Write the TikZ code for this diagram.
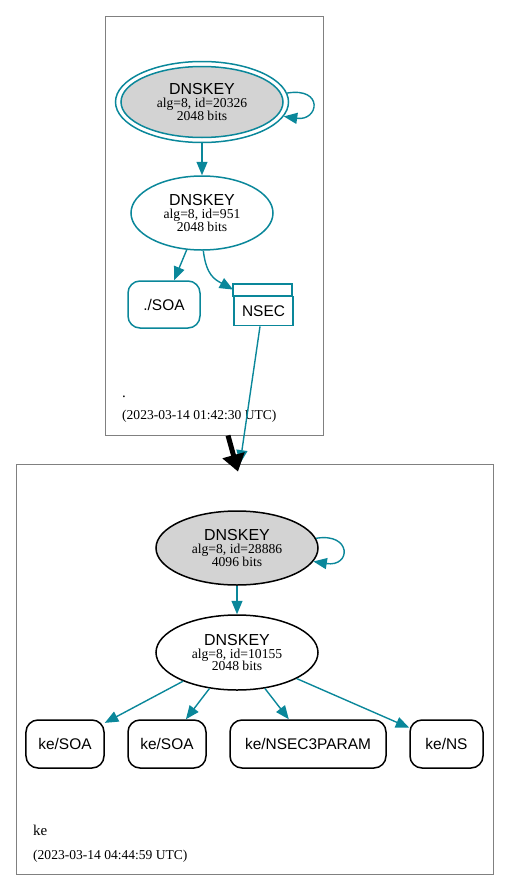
\documentclass[tikz,border=0pt]{standalone}
\usepackage{fontspec}
\setmainfont{Liberation Serif}
\setsansfont{Liberation Sans}
\usetikzlibrary{arrows.meta,shapes.geometric}
\definecolor{dnsteal}{HTML}{0A879A}
\definecolor{keygray}{HTML}{D3D3D3}
\definecolor{zonegray}{HTML}{808080}
\newcommand{\keylabel}[2]{{\sffamily\fontsize{16}{13}\selectfont DNSKEY}\\alg=8, id=#1\\#2 bits}

\begin{document}
\begin{tikzpicture}[x=1bp,y=-1bp,
  zone/.style={draw=zonegray,line width=0.8bp},
  keynode/.style={ellipse,inner sep=0pt,align=center,line width=1.5bp,
    font=\fontsize{13.7}{13}\selectfont},
  rrbox/.style={rectangle,rounded corners=12bp,line width=1.5bp,
    font=\sffamily\fontsize{15.5}{16}\selectfont},
  edge/.style={draw=dnsteal,line width=1.4bp,-{Triangle[length=13.5bp,width=11bp]}},
  zonearrow/.style={draw=black,line width=5bp,-{Triangle[length=17bp,width=22bp]}},
  zonelabel/.style={anchor=base west,inner sep=0pt}]
  \useasboundingbox (0,0) rectangle (509,890);
  \node[zone,minimum width=218bp,minimum height=419bp] (rootzone) at (214,225.5) {};
  \node[zone,minimum width=477bp,minimum height=410bp] (kezone) at (254.5,669) {};

  % root zone
  \node[keynode,draw=dnsteal,minimum width=173bp,minimum height=81bp] (rootksko) at (202,102) {};
  \node[keynode,draw=dnsteal,fill=keygray,minimum width=162bp,minimum height=71bp] (rootksk) at (202,102) {\keylabel{20326}{2048}};
  \node[keynode,draw=dnsteal,minimum width=142bp,minimum height=74bp] (rootzsk) at (202,213) {\keylabel{951}{2048}};
  \node[rrbox,draw=dnsteal,minimum width=72bp,minimum height=47bp] (rootsoa) at (164,304.5) {./SOA};
  \node[rrbox,rounded corners=0pt,draw=dnsteal,line width=1.8bp,minimum width=59bp,minimum height=29bp] (nsec) at (263.5,311) {NSEC};
  \draw[dnsteal,line width=1.8bp] (nsec.north west) rectangle ++(59,-12);
  \node[zonelabel,font=\fontsize{15}{15}\selectfont] (rootname) at (122,397) {.};
  \node[zonelabel,font=\fontsize{13.6}{14}\selectfont] (rootdate) at (122,419) {(2023-03-14 01:42:30 UTC)};

  \draw[edge] (rootksko.6) .. controls +(37,-6) and +(35,5) .. (rootksko.-10);
  \draw[edge] (rootksko) -- (rootzsk);
  \draw[edge] (rootzsk) -- (rootsoa);
  \draw[edge] (rootzsk.-88) .. controls +(3,25) and +(-18,-10) .. ([yshift=6bp]nsec.north west);
  \draw[edge] ([xshift=-3.5bp]nsec.south) -- ([xshift=-14.5bp]kezone.north);
  \draw[zonearrow] ([xshift=14bp]rootzone.south) -- ([xshift=-16.5bp,yshift=-8bp]kezone.north);

  % ke zone
  \node[keynode,draw=black,fill=keygray,minimum width=162bp,minimum height=74bp] (keksk) at (237,548) {\keylabel{28886}{4096}};
  \node[keynode,draw=black,minimum width=162bp,minimum height=75bp] (kezsk) at (237,652.5) {\keylabel{10155}{2048}};
  \node[rrbox,draw=black,minimum width=78bp,minimum height=48bp] (kesoaa) at (65,744) {ke/SOA};
  \node[rrbox,draw=black,minimum width=78bp,minimum height=48bp] (kesoab) at (167,744) {ke/SOA};
  \node[rrbox,draw=black,minimum width=156bp,minimum height=48bp] (kensecparam) at (308,744) {ke/NSEC3PARAM};
  \node[rrbox,draw=black,minimum width=73bp,minimum height=48bp] (kens) at (446.5,744) {ke/NS};
  \node[zonelabel,font=\fontsize{15}{15}\selectfont] (kename) at (33,835) {ke};
  \node[zonelabel,font=\fontsize{13.6}{14}\selectfont] (kedate) at (33,859) {(2023-03-14 04:44:59 UTC)};

  \draw[edge] (keksk.7) .. controls +(36,-6) and +(38,6) .. (keksk.-10);
  \draw[edge] (keksk) -- (kezsk);
  \draw[edge] (kezsk) -- (kesoaa);
  \draw[edge] (kezsk) -- (kesoab);
  \draw[edge] (kezsk) -- (kensecparam);
  \draw[edge] (kezsk) -- (kens);
\end{tikzpicture}
\end{document}
